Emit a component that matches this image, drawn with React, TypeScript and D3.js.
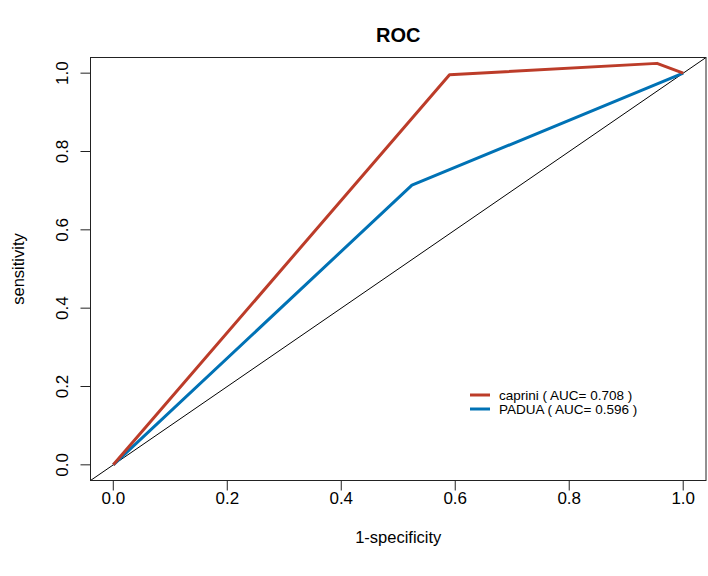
import React from "react";
import * as d3 from "d3";

const capriniFpr = [0, 0.59, 0.954, 1];
const capriniTpr = [0, 0.996, 1.025, 1];
const paduaFpr = [0, 0.524, 1];
const paduaTpr = [0, 0.714, 1];
const xTicks = [0, 0.2, 0.4, 0.6, 0.8, 1.0];
const yTicks = [0, 0.2, 0.4, 0.6, 0.8, 1.0];
const seriesNames = ["caprini ( AUC= 0.708 )", "PADUA ( AUC= 0.596 )"];
const seriesColors = ["#BC3C29", "#0072B5"];

const W = 708;
const H = 576;
const left = 90.5;
const right = 706;
const top = 57.5;
const bottom = 480.5;
const font = "'Liberation Sans', Arial, Helvetica, sans-serif";

export default function App() {
  const x = d3.scaleLinear().domain([-0.04, 1.04]).range([left, right]);
  const y = d3.scaleLinear().domain([-0.04, 1.04]).range([bottom, top]);
  const line = d3
    .line<[number, number]>()
    .x((d) => x(d[0]))
    .y((d) => y(d[1]));
  const capPts: [number, number][] = capriniFpr.map((v, i) => [v, capriniTpr[i]]);
  const padPts: [number, number][] = paduaFpr.map((v, i) => [v, paduaTpr[i]]);
  const legY = [395, 409];
  return (
    <svg
      width={W}
      height={H}
      style={{ position: "absolute", left: 0, top: 0, background: "#fff" }}
      fontFamily={font}
    >
      <rect x={0} y={0} width={W} height={H} fill="#fff" />
      <text x={(left + right) / 2} y={42} textAnchor="middle" fontWeight="bold" fontSize={20}>
        ROC
      </text>
      <line x1={x(-0.04)} y1={y(-0.04)} x2={x(1.04)} y2={y(1.04)} stroke="#000" strokeWidth={1} />
      <path d={line(padPts) || ""} fill="none" stroke={seriesColors[1]} strokeWidth={3} strokeLinejoin="round" />
      <path d={line(capPts) || ""} fill="none" stroke={seriesColors[0]} strokeWidth={3} strokeLinejoin="round" />
      <rect x={left} y={top} width={right - left} height={bottom - top} fill="none" stroke="#222" strokeWidth={1} />
      {xTicks.map((t) => (
        <g key={"x" + t}>
          <line x1={x(t)} x2={x(t)} y1={bottom} y2={bottom + 10} stroke="#222" />
          <text x={x(t)} y={504} textAnchor="middle" fontSize={17}>
            {t.toFixed(1)}
          </text>
        </g>
      ))}
      {yTicks.map((t) => (
        <g key={"y" + t}>
          <line x1={left} x2={left - 10} y1={y(t)} y2={y(t)} stroke="#222" />
          <text
            transform={`translate(68,${y(t)}) rotate(-90)`}
            textAnchor="middle"
            fontSize={17}
          >
            {t.toFixed(1)}
          </text>
        </g>
      ))}
      <text x={(left + right) / 2} y={543} textAnchor="middle" fontSize={16.5}>
        1-specificity
      </text>
      <text
        transform={`translate(24,${(top + bottom) / 2}) rotate(-90)`}
        textAnchor="middle"
        fontSize={16.5}
      >
        sensitivity
      </text>
      {seriesNames.map((n, i) => (
        <g key={n}>
          <line x1={470} x2={490} y1={legY[i]} y2={legY[i]} stroke={seriesColors[i]} strokeWidth={3} />
          <text x={499} y={legY[i] + 5} fontSize={13.5}>
            {n}
          </text>
        </g>
      ))}
    </svg>
  );
}
